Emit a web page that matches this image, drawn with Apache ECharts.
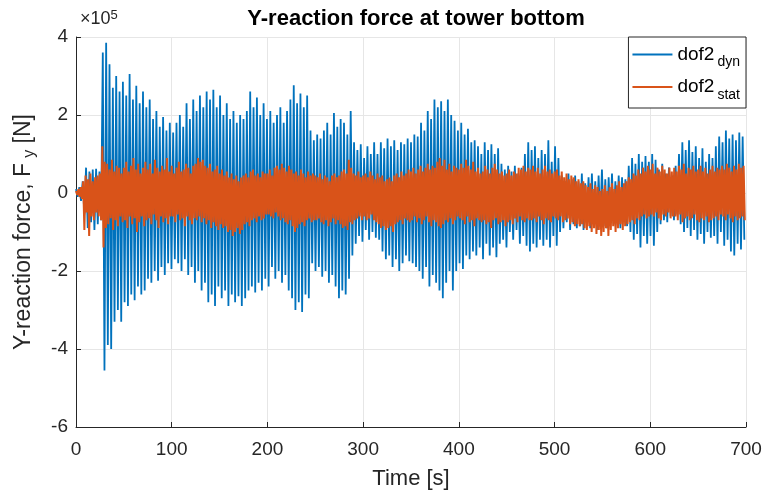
<!DOCTYPE html>
<html>
<head>
    <meta charset="UTF-8">
    <title>Y-reaction force at tower bottom</title>
    <script src="https://cdn.jsdelivr.net/npm/echarts/dist/echarts.min.js"></script>
    <style>
        html, body { margin: 0; padding: 0; background: #fff; }
        #forceChart { width: 765px; height: 491px; }
    </style>
</head>
<body>
    <div id="forceChart"></div>
    <script type="text/javascript">

        // values are in units of 1e5 N (axis shows "x10^5")
        const xTicks = [0, 100, 200, 300, 400, 500, 600, 700];
        const yTicks = [-6, -4, -2, 0, 2, 4];

        // dof2_dyn: one crest / trough pair per oscillation cycle
        const dynPeriod = 3.5;
        const dynHi = [
            0.1, 0.15, 0.3, 0.65, 0.55, 0.6, 0.62, 0.55, 3.6, 3.85,
            3.3, 2.7, 3.0, 2.6, 2.85, 2.5, 3.05, 2.4, 2.75, 2.3,
            2.6, 2.2, 2.4, 1.9, 2.1, 1.7, 1.95, 1.6, 1.8, 1.55,
            1.8, 2.0, 1.7, 2.3, 1.9, 2.4, 2.1, 2.5, 2.2, 2.6,
            2.4, 2.65, 2.2, 2.5, 2.0, 2.3, 1.9, 2.1, 1.8, 2.0,
            1.9, 2.1, 2.6, 2.2, 2.45, 2.0, 2.3, 1.9, 2.1, 1.8,
            2.0, 2.2, 1.8, 2.1, 2.4, 2.76, 2.3, 2.55, 2.2, 2.5,
            1.6, 1.35, 1.5, 1.4, 1.6, 1.8, 1.5, 2.05, 1.7, 1.9,
            1.8, 1.5, 2.1, 1.3, 1.1, 1.25, 0.9, 1.2, 1.0, 1.3,
            1.0, 1.3, 1.15, 1.4, 1.2, 1.35, 1.1, 1.3, 1.25, 1.4,
            1.3, 1.5, 1.45, 1.8, 1.6, 2.1, 1.9, 2.4, 2.2, 2.35,
            2.1, 2.4, 2.0, 1.85, 1.6, 1.8, 1.5, 1.65, 1.3, 1.35,
            1.2, 1.0, 1.3, 1.1, 1.25, 1.0, 1.15, 0.75, 0.6, 0.7,
            0.55, 0.7, 0.5, 0.65, 1.0, 1.3, 1.1, 1.2, 0.9, 1.1,
            1.0, 1.35, 0.8, 1.2, 0.9, 0.45, 0.3, 0.5, 0.35, 0.45,
            0.3, 0.5, 0.25, 0.4, 0.5, 0.3, 0.45, 0.6, 0.35, 0.4,
            0.5, 0.3, 0.45, 0.4, 0.35, 0.7, 0.9, 0.75, 1.0, 0.8,
            0.95, 0.8, 1.0, 0.85, 0.6, 0.75, 0.5, 0.65, 0.45, 0.7,
            1.0, 1.3, 1.1, 1.35, 1.05, 1.2, 0.9, 1.15, 0.8, 1.0,
            0.9, 1.2, 1.45, 1.3, 1.6, 1.4, 1.5, 1.35, 1.55, 1.45
        ];
        const dynLo = [
            -0.1, -0.2, -0.55, -0.9, -0.75, -0.95, -0.8, -0.7, -4.55, -3.9,
            -4.0, -3.3, -3.0, -3.3, -2.8, -2.9, -2.6, -2.75, -2.4, -2.6,
            -2.5, -2.2, -2.3, -2.0, -2.25, -1.9, -2.1, -1.8, -1.95, -1.7,
            -1.8, -2.0, -1.7, -2.1, -1.9, -2.3, -2.0, -2.5, -2.3, -2.8,
            -2.6, -2.9, -2.4, -2.7, -2.5, -2.9, -2.6, -2.8, -2.65, -2.9,
            -2.7, -2.5, -2.4, -2.55, -2.3, -2.5, -2.2, -2.4, -1.9, -2.2,
            -2.0, -2.3, -2.1, -2.5, -2.7, -3.0, -2.8, -3.05, -2.6, -2.7,
            -1.8, -2.0, -1.9, -2.15, -2.0, -2.3, -2.1, -2.4, -2.7, -2.5,
            -2.6, -2.2, -1.6, -1.3, -1.1, -1.25, -0.95, -1.2, -1.0, -1.15,
            -1.2, -1.5, -1.7, -1.6, -1.9, -1.7, -2.0, -1.8, -1.6, -1.75,
            -1.8, -1.9, -2.0, -2.2, -1.9, -2.4, -2.1, -2.3, -2.5, -2.7,
            -2.3, -2.0, -2.5, -2.0, -1.8, -1.95, -1.6, -1.7, -1.5, -1.6,
            -1.4, -1.7, -1.3, -1.6, -1.4, -1.65, -1.3, -1.2, -1.4, -1.0,
            -1.2, -0.95, -1.3, -1.1, -1.35, -1.5, -1.3, -1.4, -1.2, -1.35,
            -1.2, -1.4, -1.1, -1.35, -1.0, -0.9, -0.75, -0.95, -0.8, -0.9,
            -0.85, -0.95, -0.7, -0.9, -0.8, -0.95, -0.75, -0.85, -0.9, -0.7,
            -0.8, -0.65, -0.9, -0.75, -0.85, -1.0, -1.2, -1.05, -1.4, -1.1,
            -1.3, -1.1, -1.35, -1.0, -0.8, -0.7, -0.75, -0.6, -0.7, -0.55,
            -0.8, -1.0, -0.9, -1.1, -0.95, -1.2, -1.05, -1.3, -1.0, -1.15,
            -1.1, -1.3, -1.0, -1.35, -1.2, -1.5, -1.6, -1.3, -1.45, -1.2
        ];

        // dof2_stat: faster, smaller oscillation
        const statPeriod = 2.5;
        const statHi = [
            0.05, 0.1, 0.15, 0.3, 0.45, 0.35, 0.5, 0.3, 0.4, 0.45,
            0.5, 1.2, 0.8, 0.75, 0.6, 0.85, 0.55, 0.7, 0.65, 0.5,
            0.65, 0.8, 0.55, 0.7, 0.9, 0.6, 0.75, 0.5, 0.65, 0.8,
            0.6, 0.75, 0.5, 0.85, 0.65, 0.55, 0.7, 0.6, 0.9, 0.55,
            0.7, 0.5, 0.65, 0.8, 0.55, 0.6, 0.75, 0.65, 0.5, 0.7,
            0.75, 0.9, 0.8, 0.85, 0.7, 0.65, 0.75, 0.55, 0.6, 0.7,
            0.5, 0.6, 0.45, 0.55, 0.4, 0.5, 0.35, 0.45, 0.3, 0.4,
            0.45, 0.5, 0.4, 0.55, 0.6, 0.45, 0.5, 0.4, 0.55, 0.5,
            0.5, 0.6, 0.45, 0.65, 0.7, 0.6, 0.75, 0.65, 0.55, 0.7,
            0.6, 0.5, 0.55, 0.45, 0.6, 0.5, 0.4, 0.55, 0.45, 0.5,
            0.45, 0.4, 0.5, 0.35, 0.45, 0.4, 0.3, 0.45, 0.5, 0.4,
            0.45, 0.55, 0.6, 0.5, 0.85, 0.65, 0.5, 0.45, 0.55, 0.4,
            0.45, 0.5, 0.4, 0.55, 0.45, 0.35, 0.5, 0.4, 0.45, 0.3,
            0.35, 0.4, 0.3, 0.45, 0.5, 0.4, 0.55, 0.45, 0.5, 0.6,
            0.55, 0.65, 0.5, 0.6, 0.7, 0.55, 0.65, 0.75, 0.6, 0.7,
            0.65, 0.8, 0.9, 0.7, 0.85, 0.6, 0.75, 0.55, 0.7, 0.65,
            0.6, 0.75, 0.65, 0.85, 0.7, 0.6, 0.8, 0.55, 0.65, 0.5,
            0.55, 0.7, 0.6, 0.5, 0.65, 0.75, 0.6, 0.5, 0.55, 0.45,
            0.5, 0.6, 0.45, 0.55, 0.5, 0.65, 0.6, 0.7, 0.55, 0.65,
            0.6, 0.7, 0.55, 0.65, 0.5, 0.6, 0.7, 0.55, 0.6, 0.5,
            0.55, 0.6, 0.45, 0.55, 0.4, 0.5, 0.35, 0.45, 0.4, 0.3,
            0.35, 0.25, 0.3, 0.2, 0.15, 0.25, 0.1, 0.2, 0.15, 0.05,
            0.1, 0.2, 0.05, 0.15, 0.25, 0.1, 0.2, 0.3, 0.15, 0.25,
            0.3, 0.4, 0.35, 0.5, 0.45, 0.6, 0.5, 0.65, 0.55, 0.7,
            0.6, 0.75, 0.5, 0.65, 0.55, 0.7, 0.6, 0.5, 0.65, 0.55,
            0.65, 0.55, 0.7, 0.6, 0.75, 0.5, 0.65, 0.6, 0.7, 0.55,
            0.6, 0.7, 0.55, 0.65, 0.5, 0.6, 0.7, 0.55, 0.65, 0.6,
            0.7, 0.6, 0.75, 0.65, 0.55, 0.7, 0.6, 0.75, 0.65, 0.7
        ];
        const statLo = [
            -0.05, -0.1, -0.15, -0.95, -0.5, -1.1, -0.6, -0.7, -0.5, -0.6,
            -0.7, -1.4, -0.9, -0.8, -0.65, -0.95, -0.7, -0.85, -0.6, -0.75,
            -0.7, -0.9, -0.6, -0.8, -0.65, -1.0, -0.75, -0.6, -0.85, -0.7,
            -0.65, -0.8, -0.55, -0.7, -0.9, -0.6, -0.75, -0.65, -0.8, -0.6,
            -0.6, -0.75, -0.55, -0.7, -0.65, -0.85, -0.6, -0.7, -0.8, -0.65,
            -0.7, -0.6, -0.75, -0.65, -0.8, -0.7, -0.9, -0.75, -0.85, -0.95,
            -0.8, -0.9, -0.85, -1.0, -0.95, -1.1, -1.0, -0.9, -1.05, -0.95,
            -0.8, -0.75, -0.85, -0.7, -0.65, -0.75, -0.6, -0.7, -0.65, -0.55,
            -0.55, -0.6, -0.65, -0.5, -0.6, -0.7, -0.65, -0.75, -0.8, -0.7,
            -0.85, -1.0, -0.9, -0.8, -0.75, -0.85, -0.7, -0.65, -0.75, -0.7,
            -0.7, -0.65, -0.75, -0.8, -0.7, -0.85, -0.75, -0.65, -0.8, -0.7,
            -0.8, -0.9, -0.85, -0.95, -0.75, -0.8, -0.7, -0.65, -0.6, -0.7,
            -0.6, -0.7, -0.65, -0.55, -0.7, -0.75, -0.8, -0.9, -0.85, -0.95,
            -0.9, -0.85, -1.0, -0.8, -0.75, -0.7, -0.8, -0.65, -0.7, -0.75,
            -0.7, -0.6, -0.75, -0.65, -0.8, -0.7, -0.6, -0.75, -0.85, -0.7,
            -0.75, -0.85, -0.9, -0.8, -0.7, -0.75, -0.65, -0.8, -0.7, -0.6,
            -0.65, -0.7, -0.8, -0.6, -0.75, -0.7, -0.85, -0.65, -0.7, -0.75,
            -0.7, -0.8, -0.75, -0.9, -0.7, -0.65, -0.8, -0.75, -0.7, -0.85,
            -0.75, -0.7, -0.8, -0.65, -0.75, -0.6, -0.7, -0.75, -0.65, -0.7,
            -0.7, -0.65, -0.75, -0.6, -0.7, -0.8, -0.65, -0.7, -0.75, -0.6,
            -0.65, -0.7, -0.6, -0.75, -0.7, -0.65, -0.8, -0.75, -0.85, -0.8,
            -0.85, -0.8, -0.9, -0.95, -0.85, -1.0, -0.9, -1.05, -0.95, -1.1,
            -1.0, -0.9, -1.1, -0.95, -0.85, -1.0, -0.9, -0.8, -0.95, -0.85,
            -0.8, -0.75, -0.7, -0.8, -0.65, -0.7, -0.6, -0.55, -0.65, -0.6,
            -0.55, -0.6, -0.5, -0.65, -0.7, -0.55, -0.6, -0.5, -0.65, -0.6,
            -0.6, -0.7, -0.55, -0.75, -0.65, -0.6, -0.7, -0.65, -0.55, -0.7,
            -0.75, -0.65, -0.7, -0.6, -0.75, -0.7, -0.65, -0.6, -0.7, -0.55,
            -0.6, -0.7, -0.55, -0.65, -0.75, -0.6, -0.7, -0.65, -0.6, -0.7
        ];

        // crest at start of each cycle, trough half a period later
        function buildSeries(hi, lo, period) {
            const pts = [];
            for (let i = 0; i < hi.length; i++) {
                pts.push([i * period, hi[i]]);
                pts.push([i * period + period / 2, lo[i]]);
            }
            return pts;
        }

        const FONT = '"Liberation Sans", Arial, Helvetica, sans-serif';

        var mychart = echarts.init(document.getElementById('forceChart'), null, { renderer: 'canvas' });

        var option = {
            animation: false,
            backgroundColor: '#ffffff',
            title: {
                text: 'Y-reaction force at tower bottom',
                left: 411,
                textAlign: 'center',
                top: 3,
                textStyle: { fontFamily: FONT, fontSize: 22, fontWeight: 'bold', color: '#000' }
            },
            legend: {
                data: ['dof2_dyn', 'dof2_stat'],
                orient: 'vertical',
                right: 19,
                top: 37,
                padding: [8, 6, 6, 4],
                itemGap: 8,
                itemWidth: 40,
                itemHeight: 2,
                icon: 'rect',
                borderColor: '#262626',
                borderWidth: 1,
                borderRadius: 0,
                backgroundColor: '#fff',
                formatter: function (name) {
                    var parts = name.split('_');
                    return parts[0] + '{sub|' + parts[1] + '}';
                },
                textStyle: {
                    fontFamily: FONT,
                    fontSize: 19,
                    color: '#000',
                    rich: {
                        sub: { fontFamily: FONT, fontSize: 14, color: '#000', verticalAlign: 'bottom', padding: [16, 0, 0, 3] }
                    }
                }
            },
            grid: { left: 76, right: 19, top: 37, bottom: 64, outerBoundsMode: 'none' },
            xAxis: {
                type: 'value',
                min: xTicks[0],
                max: xTicks[xTicks.length - 1],
                interval: 100,
                name: 'Time [s]',
                nameLocation: 'middle',
                nameGap: 41,
                nameTextStyle: { fontFamily: FONT, fontSize: 22, color: '#262626' },
                axisLine: { show: true, onZero: false, lineStyle: { color: '#262626', width: 1 } },
                axisTick: { show: true, inside: true, length: 5, lineStyle: { color: '#262626' } },
                axisLabel: { fontFamily: FONT, fontSize: 19, color: '#262626', margin: 13 },
                splitLine: { show: true, lineStyle: { color: '#e6e6e6', width: 1 } }
            },
            yAxis: {
                type: 'value',
                min: yTicks[0],
                max: yTicks[yTicks.length - 1],
                interval: 2,
                name: 'Y-reaction force, F{sub|y} [N]',
                nameLocation: 'middle',
                nameGap: 38,
                nameTextStyle: {
                    fontFamily: FONT, fontSize: 23, color: '#262626',
                    rich: { sub: { fontFamily: FONT, fontSize: 16, color: '#262626', verticalAlign: 'bottom', padding: [12, 0, 0, 5] } }
                },
                axisLine: { show: true, onZero: false, lineStyle: { color: '#262626', width: 1 } },
                axisTick: { show: true, inside: true, length: 5, lineStyle: { color: '#262626' } },
                axisLabel: { fontFamily: FONT, fontSize: 19, color: '#262626', margin: 8 },
                splitLine: { show: true, lineStyle: { color: '#e6e6e6', width: 1 } }
            },
            graphic: [
                {
                    type: 'text',
                    left: 80,
                    top: 9,
                    style: {
                        text: '\u00d710{sup|5}',
                        font: '18px ' + FONT,
                        fill: '#262626',
                        rich: { sup: { fontSize: 13, fontFamily: FONT, verticalAlign: 'top', padding: [0, 0, 8, 0] } }
                    }
                }
            ],
            series: [
                {
                    name: 'dof2_dyn',
                    type: 'line',
                    data: buildSeries(dynHi, dynLo, dynPeriod),
                    showSymbol: false,
                    symbol: 'none',
                    lineStyle: { color: '#0072BD', width: 1.8 },
                    itemStyle: { color: '#0072BD' }
                },
                {
                    name: 'dof2_stat',
                    type: 'line',
                    data: buildSeries(statHi, statLo, statPeriod),
                    showSymbol: false,
                    symbol: 'none',
                    lineStyle: { color: '#D95319', width: 2 },
                    itemStyle: { color: '#D95319' }
                }
            ]
        };

        mychart.setOption(option);
    </script>
</body>
</html>
